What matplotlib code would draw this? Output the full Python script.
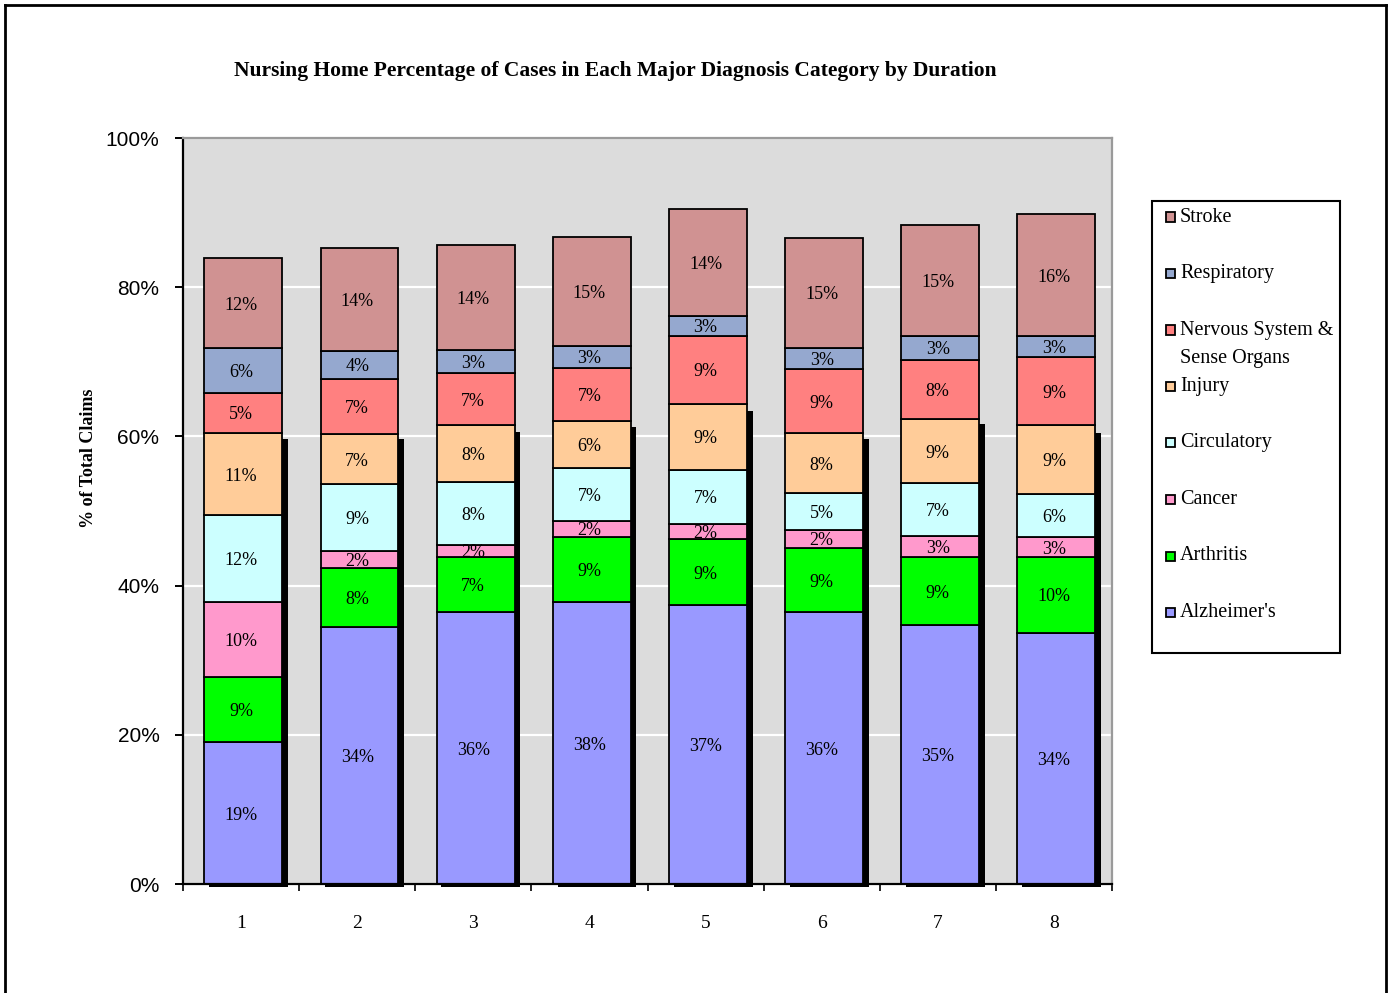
import matplotlib
matplotlib.use("Agg")
import matplotlib.pyplot as plt
from matplotlib.lines import Line2D
from matplotlib.patches import Rectangle
import matplotlib.transforms as mtransforms
import numpy as np

# ---- data -------------------------------------------------------------
durations = ["1", "2", "3", "4", "5", "6", "7", "8"]

# stacked bottom -> top
series_names = ["Alzheimer's", "Arthritis", "Cancer", "Circulatory", "Injury",
                "Nervous System &\nSense Organs", "Respiratory", "Stroke"]
series_colors = ["#9999FF", "#00FF00", "#FF99CC", "#CCFFFF", "#FFCC99",
                 "#FF8080", "#95A8CF", "#D09292"]

alzheimers  = [19.0, 34.4, 36.4, 37.8, 37.4, 36.4, 34.7, 33.7]
arthritis   = [8.7, 7.9, 7.4, 8.7, 8.8, 8.7, 9.1, 10.1]
cancer      = [10.1, 2.4, 1.7, 2.2, 2.1, 2.4, 2.9, 2.7]
circulatory = [11.6, 8.9, 8.4, 7.0, 7.2, 4.9, 7.0, 5.8]
injury      = [11.1, 6.7, 7.6, 6.3, 8.9, 8.0, 8.6, 9.2]
nervous     = [5.3, 7.4, 7.0, 7.2, 9.1, 8.6, 8.0, 9.1]
respiratory = [6.0, 3.8, 3.1, 2.9, 2.6, 2.9, 3.1, 2.8]
stroke      = [12.1, 13.8, 14.1, 14.6, 14.4, 14.7, 15.0, 16.4]

# height of the dark drop shadow behind each column
shadow_top = [59.6, 59.7, 60.6, 61.2, 63.4, 59.7, 61.6, 60.5]

series_values = [alzheimers, arthritis, cancer, circulatory, injury,
                 nervous, respiratory, stroke]

title = "Nursing Home Percentage of Cases in Each Major Diagnosis Category by Duration"
ylabel = "% of Total Claims"
yticks = [0, 20, 40, 60, 80, 100]

# ---- figure -----------------------------------------------------------
W, H = 1392, 993
fig = plt.figure(figsize=(W / 100, H / 100), dpi=100)
fig.patch.set_facecolor("white")


def fx(px):
    return px / W


def fy(py):
    return 1 - py / H


ax = fig.add_axes([fx(183), fy(884), fx(1112) - fx(183), fy(138) - fy(884)])
ax.set_facecolor("#DCDCDC")
ax.set_xlim(0.5, 8.5)
ax.set_ylim(0, 100)

serif = "Liberation Serif"
sans = "Liberation Sans"

x = np.arange(1, len(durations) + 1)
bar_w = 0.67
off = 0.02
shadow_w = 0.05
strip_inset = 0.04

# drop shadow: right side band + thin strip under the column
ax.bar(x + off + bar_w / 2 + shadow_w / 2, shadow_top, width=shadow_w,
       color="black", linewidth=0, zorder=2)
strip_left = x + off - bar_w / 2 + strip_inset
strip_right = x + off + bar_w / 2 + shadow_w
ax.bar((strip_left + strip_right) / 2, 0.45, bottom=-0.45,
       width=strip_right - strip_left,
       color="black", linewidth=0, zorder=2, clip_on=False)

bottom = np.zeros(len(durations))
label_offset = mtransforms.offset_copy(ax.transData, fig=fig, x=0, y=-2, units="dots")
for name, vals, col in zip(series_names, series_values, series_colors):
    vals = np.asarray(vals, dtype=float)
    ax.bar(x + off, vals, bar_w, bottom=bottom, color=col,
           edgecolor="black", linewidth=1.3, zorder=3)
    for xi, b, v in zip(x, bottom, vals):
        ax.text(xi, b + v / 2, "%.0f%%" % v, ha="center", va="center",
                fontsize=13, family=serif, color="black", zorder=4,
                transform=label_offset)
    bottom += vals

# grid, spines, ticks
ax.set_axisbelow(True)
ax.yaxis.grid(True, color="white", linewidth=1.6, zorder=0)
ax.xaxis.grid(False)
for s in ("top", "right"):
    ax.spines[s].set_color("#9A9A9A")
    ax.spines[s].set_linewidth(1.6)
for s in ("left", "bottom"):
    ax.spines[s].set_color("black")
    ax.spines[s].set_linewidth(1.6)
ax.spines["bottom"].set_zorder(5)

ax.set_yticks(yticks)
ax.set_yticklabels(["%d%%" % t for t in yticks], family=sans, fontsize=15)
ax.tick_params(axis="y", length=6, width=1.4, pad=11, color="black")

ax.set_xticks(x)
ax.set_xticklabels(durations, family=serif, fontsize=14)
ax.tick_params(axis="x", which="major", length=0, pad=22)
ax.set_xticks(np.arange(0.5, len(durations) + 1, 1.0), minor=True)
ax.tick_params(axis="x", which="minor", length=5, width=1.2, color="black")

ax.set_ylabel(ylabel, family=serif, fontsize=13, fontweight="bold")
ax.yaxis.set_label_coords(-0.093, 0.571)

fig.text(fx(615), fy(71), title, ha="center", va="center",
         family=serif, fontweight="bold", fontsize=15.5)

# legend box (top series first)
lx0, ly0, lx1, ly1 = 1152, 201, 1340, 653
fig.patches.append(Rectangle((fx(lx0), fy(ly1)), fx(lx1) - fx(lx0), fy(ly0) - fy(ly1),
                             transform=fig.transFigure, facecolor="white",
                             edgecolor="black", linewidth=1.5, zorder=1))
entry_y0, entry_step = 217, 56.5
msz = 9
for i, (name, col) in enumerate(zip(series_names[::-1], series_colors[::-1])):
    yc = entry_y0 + i * entry_step
    fig.patches.append(Rectangle((fx(1166), fy(yc + msz / 2)), fx(msz), msz / H,
                                 transform=fig.transFigure, facecolor=col,
                                 edgecolor="black", linewidth=1.3, zorder=2))
    for j, line in enumerate(name.split("\n")):
        fig.text(fx(1180), fy(yc + j * 28), line, ha="left", va="center",
                 family=serif, fontsize=14.5, zorder=3)

# outer frame
frame_kw = dict(color="black", linewidth=2, transform=fig.transFigure)
fig.lines.append(Line2D([fx(5), fx(5)], [0, fy(5)], **frame_kw))
fig.lines.append(Line2D([fx(5), fx(1386)], [fy(5), fy(5)], **frame_kw))
fig.lines.append(Line2D([fx(1386), fx(1386)], [0, fy(5)], **frame_kw))

fig.savefig("out.png", dpi=100)
